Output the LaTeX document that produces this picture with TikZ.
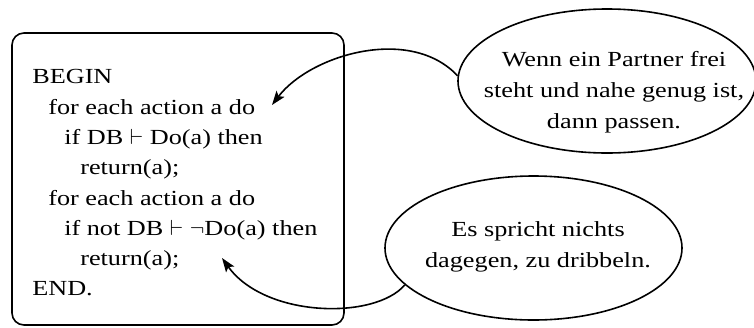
\documentclass[tikz,border=0pt]{standalone}
\usepackage{fontspec}
\setmainfont[FakeStretch=1.22]{Liberation Serif}
\usetikzlibrary{shapes.geometric,arrows.meta}
\begin{document}
\begin{tikzpicture}[x=0.5pt,y=-0.5pt,
  line width=0.8pt,
  codebox/.style={draw, rounded corners=6pt, inner sep=0pt, minimum width=166pt, minimum height=146pt},
  bubble/.style={draw, ellipse, inner sep=0pt, minimum height=72pt},
  codetext/.style={inner sep=0pt, align=left, anchor=north west, font=\fontsize{10.75pt}{15.15pt}\selectfont},
  bubbletext/.style={inner sep=0pt, align=center, anchor=north, font=\fontsize{10.75pt}{15.5pt}\selectfont},
  arr/.style={-{Stealth[length=7pt,width=5pt,inset=1.5pt]}}]
\useasboundingbox (0,0) rectangle (754,327);
\node[codebox] (box) at (178,179) {};
\node[codetext] (code) at (31.5,68.8) {BEGIN\\
\hspace*{8pt}for each action a do\\
\hspace*{16pt}if DB $\vdash$ Do(a) then\\
\hspace*{24pt}return(a);\\
\hspace*{8pt}for each action a do\\
\hspace*{16pt}if not DB $\vdash$ $\neg$Do(a) then\\
\hspace*{24pt}return(a);\\
END.};
\node[bubble, minimum width=149pt] (e1) at (607,81) {};
\node[bubbletext] (t1) at (614,50.8) {Wenn ein Partner frei\\steht und nahe genug ist,\\dann passen.};
\node[bubble, minimum width=148.5pt] (e2) at (533.5,248) {};
\node[bubbletext] (t2) at (538,220.8) {Es spricht nichts\\dagegen, zu dribbeln.};
\coordinate (a1) at (272,105);
\coordinate (a2) at (222,258);
\draw[arr] (e1.178) .. controls (410,25) and (310,55) .. (a1);
\draw[arr] (e2.196) .. controls (375,320) and (265,318) .. (a2);
\end{tikzpicture}
\end{document}
